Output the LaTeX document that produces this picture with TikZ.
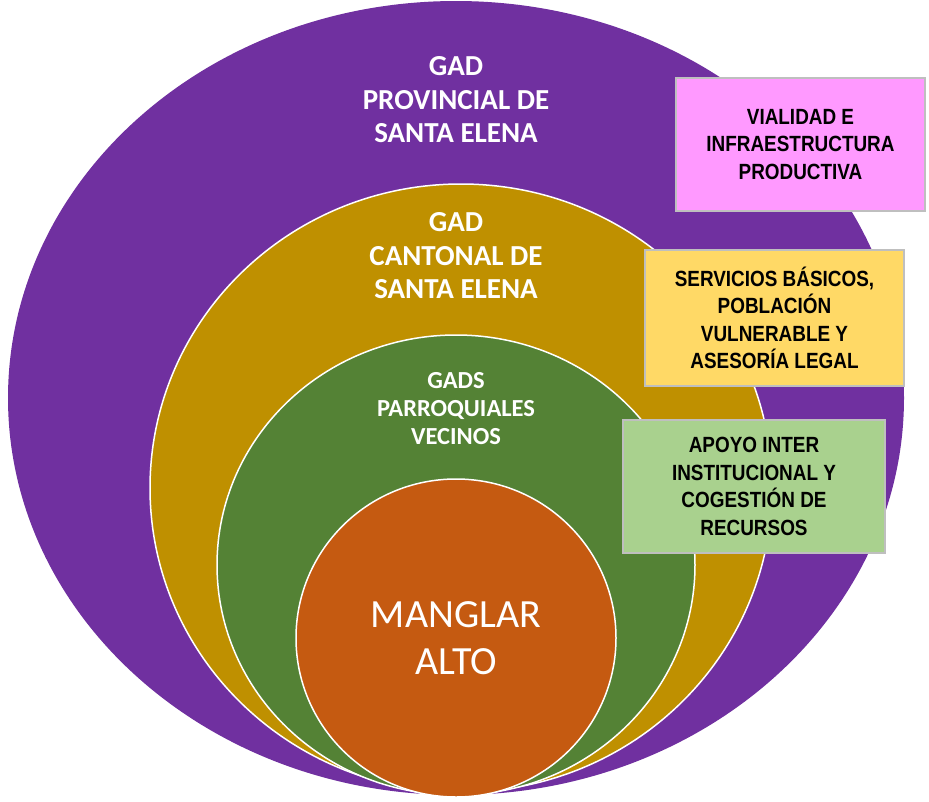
\documentclass[tikz,border=0pt]{standalone}
\usepackage{fontspec}
\setmainfont{Carlito}
\newfontfamily\narrowfont{Liberation Sans}[FakeStretch=0.86]
\usepackage{xcolor}
\usetikzlibrary{shapes,positioning}
\definecolor{provpurple}{HTML}{7030A0}
\definecolor{cantgold}{HTML}{BF9000}
\definecolor{parrgreen}{HTML}{548235}
\definecolor{mangorange}{HTML}{C55A11}
\definecolor{boxpink}{HTML}{FF99FF}
\definecolor{boxyellow}{HTML}{FFD966}
\definecolor{boxgreen}{HTML}{A9D18E}
\definecolor{boxgray}{HTML}{BFBFBF}

\begin{document}
\begin{tikzpicture}[
    x=1pt, y=-1pt,
    ring/.style={ellipse, draw=white, line width=1.5pt, inner sep=0pt},
    ringtext/.style={text=white, font=\bfseries\fontsize{29}{33.5}\selectfont, align=center},
    task/.style={rectangle, draw=boxgray, line width=1.5pt, text=black, align=center, inner sep=0pt, font=\narrowfont\bfseries\fontsize{22}{27.5}\selectfont}
]
\useasboundingbox (0,0) rectangle (929,801);

% Levels of government
\node[ring, fill=provpurple, draw=none, minimum width=896pt, minimum height=794pt] (provincial) at (456,398) {};
\node[ring, fill=cantgold, minimum width=622pt, minimum height=608pt] (cantonal) at (461,488) {};
\node[ring, fill=parrgreen, minimum width=478pt, minimum height=460pt] (parroquial) at (456,565) {};
\node[ring, fill=mangorange, minimum width=320pt, minimum height=318pt] (manglar) at (456,638) {};

% Labels
\node[ringtext] (provlabel) at (456,100) {GAD\\PROVINCIAL DE\\SANTA ELENA};
\node[ringtext] (cantlabel) at (456,256) {GAD\\CANTONAL DE\\SANTA ELENA};
\node[ringtext, font=\bfseries\fontsize{24.5}{28}\selectfont] (parrlabel) at (456,409) {GADS\\PARROQUIALES\\VECINOS};
\node[ringtext, font=\fontsize{40}{47}\selectfont] (manglabel) at (456,638) {MANGLAR\\ALTO};

% Competences
\node[task, fill=boxpink, minimum width=249pt, minimum height=133pt] (vialidad) at (800.5,144.5) {VIALIDAD E\\INFRAESTRUCTURA\\PRODUCTIVA};
\node[task, fill=boxyellow, minimum width=259pt, minimum height=136pt] (servicios) at (774.5,318) {SERVICIOS BÁSICOS,\\POBLACIÓN\\VULNERABLE Y\\ASESORÍA LEGAL};
\node[task, fill=boxgreen, minimum width=262pt, minimum height=133pt] (apoyo) at (754,486.5) {APOYO INTER\\INSTITUCIONAL Y\\COGESTIÓN DE\\RECURSOS};

\end{tikzpicture}
\end{document}
